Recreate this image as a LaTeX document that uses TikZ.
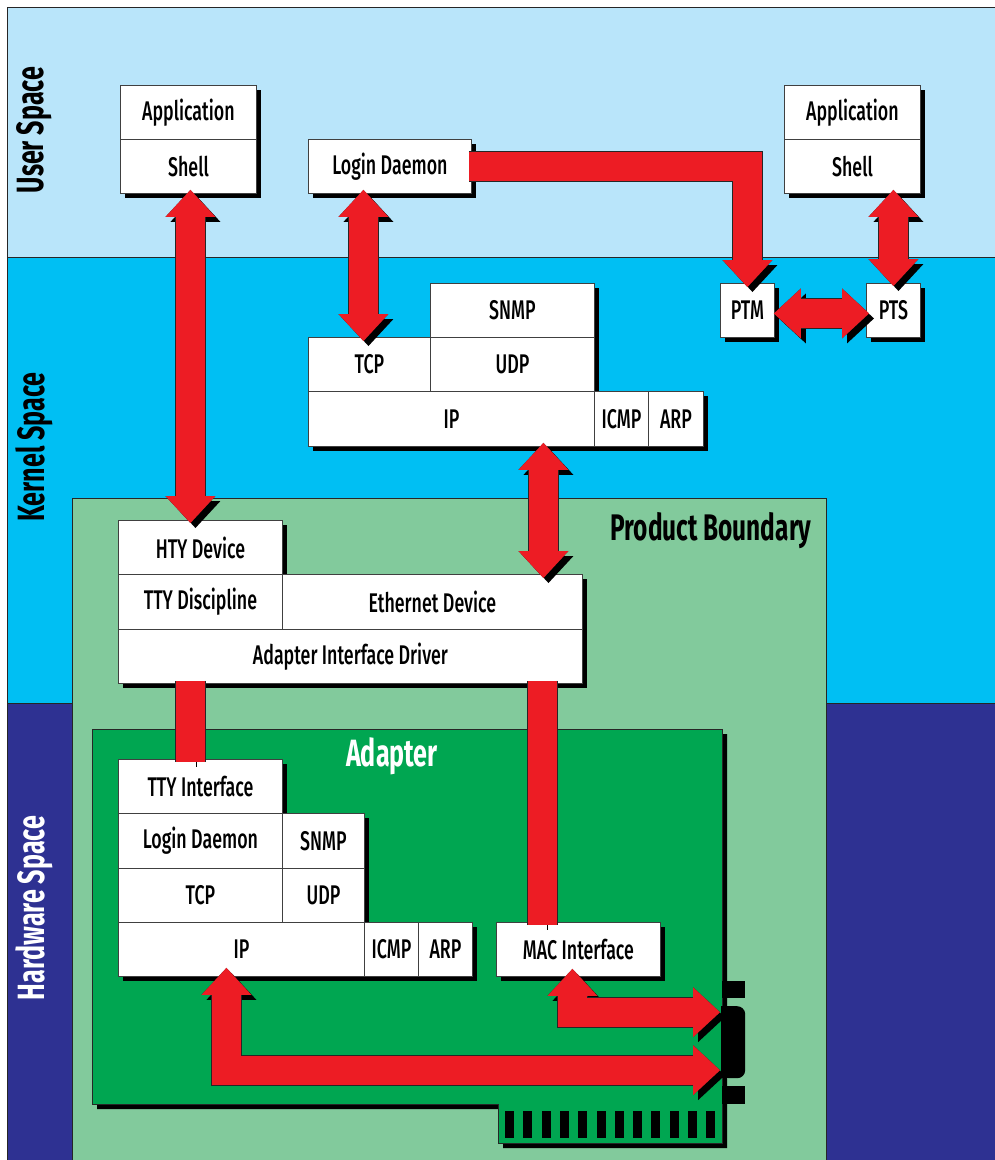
\documentclass[tikz,border=0pt]{standalone}
\usepackage{fontspec}
\setmainfont{Fira Sans}[FakeStretch=0.66]
\newfontfamily\cellfam{Fira Sans Medium}[FakeStretch=0.66]
\usetikzlibrary{arrows.meta,shadows,calc}
\definecolor{userbg}{HTML}{B9E5FA}
\definecolor{kernbg}{HTML}{00BFF3}
\definecolor{hwbg}{HTML}{2E3192}
\definecolor{prodbg}{HTML}{82CA9C}
\definecolor{adbg}{HTML}{00A651}
\definecolor{arrred}{HTML}{ED1C24}
\newcommand\boxfont{\cellfam\fontsize{27}{30}\selectfont}
\newcommand\headfont{\bfseries\fontsize{38}{40}\selectfont}
\newcommand\mkcell[6]{\node[cell, minimum width=#4pt, minimum height=#5pt] (#1) at (#2,#3) {#6};}
\begin{document}
\begin{tikzpicture}[x=1pt,y=-1pt,
  >={Triangle[width=50pt,length=27pt,line width=0pt]},
  cell/.style={draw=black!75, line width=0.9pt, fill=white, inner sep=0pt,
    anchor=north west, font=\boxfont,
    drop shadow={shadow xshift=5pt, shadow yshift=-5pt, fill=black, opacity=1}},
  band/.style={draw=black!85, line width=0.8pt},
  redarr/.style={line width=29pt, draw=arrred, line join=miter, miter limit=10,
    preaction={draw=black, transform canvas={shift={(5pt,-5pt)}}},
    preaction={draw=black!85, line width=31pt}},
  rotlabel/.style={rotate=90, font=\headfont}]
\useasboundingbox (0,0) rectangle (995,1160);
\fill[white] (0,0) rectangle (995,1160);
% bands
\filldraw[band, fill=userbg] (7,7) rectangle (1000,257);
\filldraw[band, fill=kernbg] (7,257) rectangle (1000,703);
\filldraw[band, fill=hwbg] (7,703) rectangle (1000,1165);
\filldraw[band, fill=prodbg] (72,498) rectangle (826,1165);
\node[rotlabel] (lbluser) at (34,130) {User Space};
\node[rotlabel] (lblkern) at (34,447) {Kernel Space};
\node[rotlabel, text=white] (lblhw) at (34,908) {Hardware Space};
\node[anchor=east, font=\bfseries\fontsize{37}{40}\selectfont] (lblprod) at (815,531) {Product Boundary};
% adapter card
\fill[black] (97,734) -- (727,734) -- (727,1148) -- (503,1148) -- (503,1109) -- (97,1109) -- cycle;
\filldraw[band, fill=adbg] (92,729) -- (722,729) -- (722,1143) -- (498,1143) -- (498,1104) -- (92,1104) -- cycle;
\node[font=\bfseries\fontsize{38}{40}\selectfont, text=white] (lbladapt) at (392,756) {Adapter};
\foreach \i in {0,...,11} \fill[black] (505+18.3*\i,1111) rectangle ++(9,27);
\fill[black] (722,981) rectangle (745,998);
\fill[black] (722,1086) rectangle (745,1104);
\node[fill=black, rounded corners=8pt, minimum width=24pt, minimum height=72pt, inner sep=0pt, anchor=north west] (port) at (721,1006) {};
\fill[black] (721,1006) rectangle (733,1078);
\coordinate (portA) at ($(port.west)+(-1,-30)$);
\coordinate (portB) at ($(port.west)+(-1,28)$);
% user space
\mkcell{app1}{120}{85}{136}{54}{Application}
\mkcell{shell1}{120}{139}{136}{54}{Shell}
\mkcell{login1}{308}{139}{163}{54}{Login Daemon}
\mkcell{app2}{784}{85}{136}{54}{Application}
\mkcell{shell2}{784}{139}{136}{54}{Shell}
% kernel space
\mkcell{ptm}{720}{283}{54}{54}{PTM}
\mkcell{pts}{866}{283}{54}{54}{PTS}
\mkcell{snmp1}{430}{283}{164}{54}{SNMP}
\mkcell{tcp1}{308}{337}{122}{54}{TCP}
\mkcell{udp1}{430}{337}{164}{54}{UDP}
\mkcell{ip1}{308}{391}{286}{55}{IP}
\mkcell{icmp1}{594}{391}{54}{55}{ICMP}
\mkcell{arp1}{648}{391}{55}{55}{ARP}
% product
\mkcell{hty}{118}{520}{164}{54}{HTY Device}
\mkcell{ttyd}{118}{574}{164}{55}{TTY Discipline}
\mkcell{eth}{282}{574}{300}{55}{Ethernet Device}
\mkcell{aid}{118}{629}{464}{54}{Adapter Interface Driver}
% adapter
\mkcell{ttyi}{118}{759}{164}{54}{TTY Interface}
\mkcell{login2}{118}{813}{164}{55}{Login Daemon}
\mkcell{snmp2}{282}{813}{82}{55}{SNMP}
\mkcell{tcp2}{118}{868}{164}{54}{TCP}
\mkcell{udp2}{282}{868}{82}{54}{UDP}
\mkcell{ip2}{118}{922}{246}{54}{IP}
\mkcell{icmp2}{364}{922}{54}{54}{ICMP}
\mkcell{arp2}{418}{922}{54}{54}{ARP}
\mkcell{mac}{496}{922}{164}{54}{MAC Interface}
% connectors
\draw[redarr,<->] ([xshift=2pt,yshift=4pt]shell1.south) -- ([xshift=-10pt,yshift=-3pt]hty.north);
\draw[redarr,<->] ([xshift=-26.5pt,yshift=4pt]login1.south) -- ([xshift=-6pt,yshift=-4pt]tcp1.north);
\draw[redarr,->] ([xshift=-3pt]login1.east) -| ([yshift=-4pt]ptm.north);
\draw[redarr,<->] ([xshift=-1pt,yshift=-3pt]ptm.east) -- ([xshift=3pt,yshift=-3pt]pts.west);
\draw[redarr,<->] ($(pts.north |- shell2.south)+(0,-4)$) -- ([yshift=-3pt]pts.north);
\coordinate (ethx) at ([xshift=111pt]eth.north);
\draw[redarr,<->] ($(ethx |- ip1.south)+(0,-4)$) -- ($(ethx)+(0,4)$);
\draw[redarr] ($(aid.south -| ttyi.north)+(-9.5,-3)$) -- ($(ttyi.north)+(-9.5,3)$);
\draw[redarr] ($(aid.south -| mac.north)+(-36,-3)$) -- ($(mac.north)+(-36,3)$);
\draw[redarr,<->] ($(mac.south)+(-6,-8)$) |- (portA);
\draw[redarr,<->] ($(ip2.south)+(-15,-9)$) |- (portB);
\end{tikzpicture}
\end{document}
